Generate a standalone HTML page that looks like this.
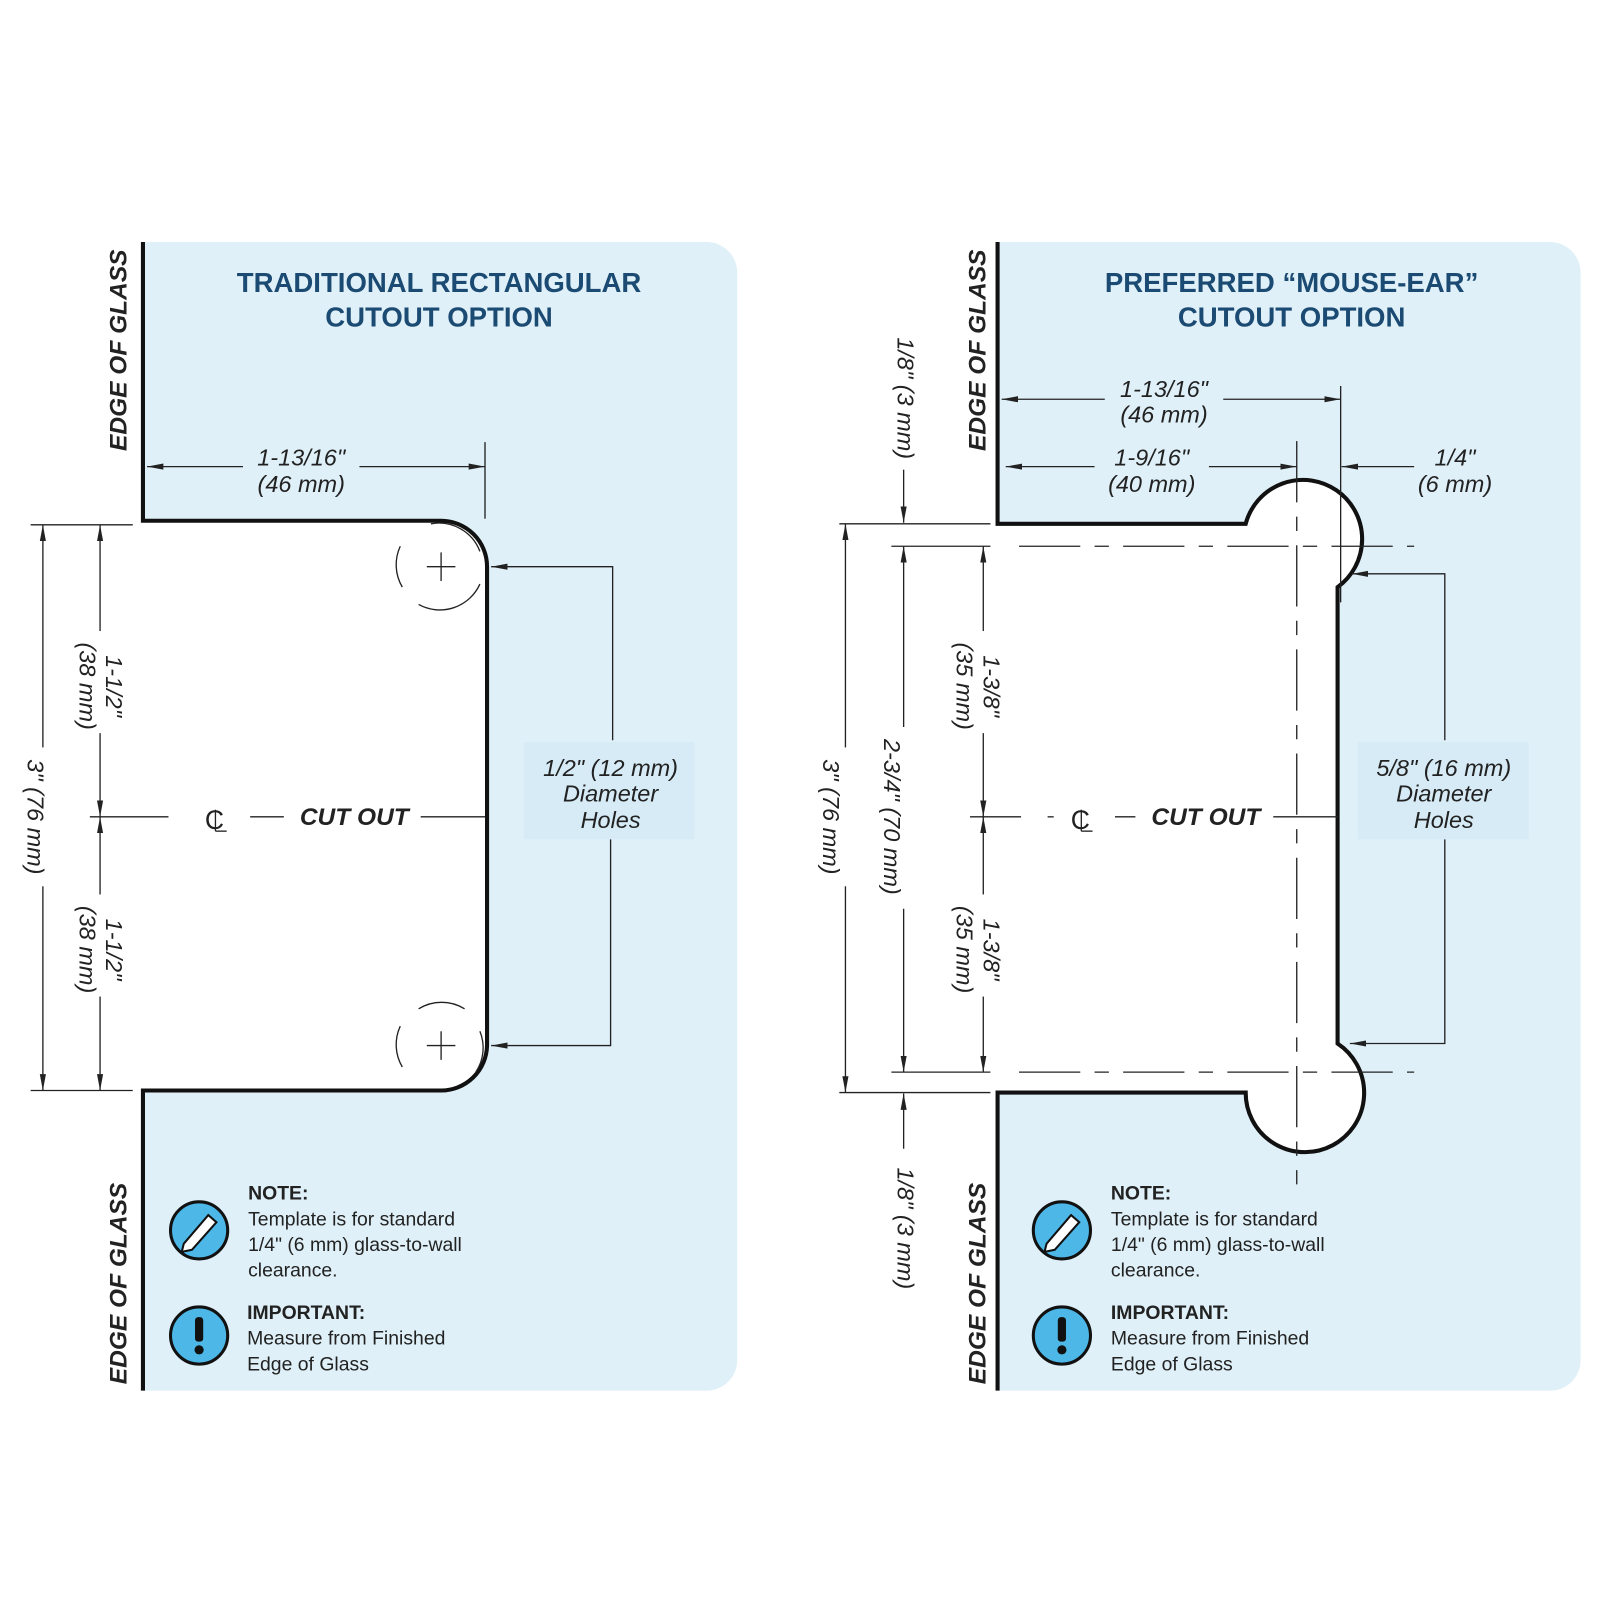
<!DOCTYPE html>
<html><head><meta charset="utf-8"><style>
html,body{margin:0;padding:0;background:#fff;width:1600px;height:1600px;overflow:hidden}
svg{display:block}
text{font-family:"Liberation Sans",Arial,sans-serif}
.t{font-weight:bold;font-size:27px;fill:#1b4a72;text-anchor:middle}
.eg{font-weight:bold;font-style:italic;font-size:24px;fill:#222;text-anchor:middle}
.d{font-style:italic;font-size:23px;fill:#222;text-anchor:middle}
.co{font-weight:bold;font-style:italic;font-size:24px;fill:#222;text-anchor:middle}
.n{font-size:19px;fill:#222}
.nb{font-size:19px;fill:#222;font-weight:bold}
.l{stroke:#222;stroke-width:1.3;fill:none}
.o{stroke:#111;stroke-width:4;fill:none}
.ds{stroke:#222;stroke-width:1.3;fill:none;stroke-dasharray:60 14 14 14}
</style></head><body>
<svg width="1600" height="1600" viewBox="0 0 1567 1567" xmlns="http://www.w3.org/2000/svg">
<defs>
<marker id="a" viewBox="0 0 16 8" refX="16" refY="4" markerWidth="16" markerHeight="8" orient="auto-start-reverse" markerUnits="userSpaceOnUse"><path d="M0,1 L16,4 L0,7 Z" fill="#222"/></marker>
</defs>

<!-- LEFT PANEL -->
<path d="M140,237 H692 A30,30 0 0 1 722,267 V1332 A30,30 0 0 1 692,1362 H140 Z" fill="#dff0f8"/>
<path d="M100,510 H432 A45,45 0 0 1 477,555 V1024 A45,45 0 0 1 432,1068 H100 Z" fill="#fff"/>
<path class="o" d="M140,237 V510 H432 A45,45 0 0 1 477,555 V1024 A45,45 0 0 1 432,1068 H140 V1362"/>
<text class="t" x="430" y="286">TRADITIONAL RECTANGULAR</text>
<text class="t" x="430" y="320">CUTOUT OPTION</text>
<text class="eg" transform="translate(124,343) rotate(-90)">EDGE OF GLASS</text>
<text class="eg" transform="translate(124,1257) rotate(-90)">EDGE OF GLASS</text>

<line class="l" x1="475" y1="433" x2="475" y2="508"/>
<line class="l" x1="144" y1="457" x2="475" y2="457" marker-start="url(#a)" marker-end="url(#a)"/>
<rect x="238" y="432" width="114" height="58" fill="#dff0f8"/>
<text class="d" x="295" y="456">1-13/16"</text>
<text class="d" x="295" y="482">(46 mm)</text>

<line class="l" x1="30" y1="514" x2="130" y2="514"/>
<line class="l" x1="30" y1="1068" x2="130" y2="1068"/>
<line class="l" x1="42" y1="514" x2="42" y2="1068" marker-start="url(#a)" marker-end="url(#a)"/>
<rect x="25" y="732" width="34" height="136" fill="#fff"/>
<text class="d" transform="translate(27,800) rotate(90)">3" (76 mm)</text>
<line class="l" x1="98" y1="514" x2="98" y2="800" marker-start="url(#a)" marker-end="url(#a)"/>
<line class="l" x1="98" y1="800" x2="98" y2="1068" marker-start="url(#a)" marker-end="url(#a)"/>
<rect x="70" y="618" width="56" height="100" fill="#fff"/>
<rect x="70" y="876" width="56" height="100" fill="#fff"/>
<text class="d" transform="translate(104,672) rotate(90)">1-1/2"</text>
<text class="d" transform="translate(78,672) rotate(90)">(38 mm)</text>
<text class="d" transform="translate(104,930) rotate(90)">1-1/2"</text>
<text class="d" transform="translate(78,930) rotate(90)">(38 mm)</text>
<line class="l" x1="88" y1="800" x2="165" y2="800"/>
<text x="210" y="812" font-size="26" fill="#222" text-anchor="middle">C</text><line class="l" x1="211" y1="793" x2="211" y2="814"/><line class="l" x1="211" y1="814" x2="222" y2="814"/>
<line class="l" x1="245" y1="800" x2="278" y2="800"/>
<text class="co" x="347" y="808">CUT OUT</text>
<line class="l" x1="412" y1="800" x2="475" y2="800"/>

<g class="l">
<path d="M422,513 A43,43 0 0 1 470,540" /><path d="M470,572 A43,43 0 0 1 410,592"/><path d="M394,575 A43,43 0 0 1 392,535"/>
<line x1="418" y1="555" x2="446" y2="555"/><line x1="432" y1="541" x2="432" y2="569"/>
<path d="M410,988 A43,43 0 0 1 455,988"/><path d="M470,1010 A43,43 0 0 1 466,1050"/><path d="M394,1045 A43,43 0 0 1 392,1005"/>
<line x1="418" y1="1024" x2="446" y2="1024"/><line x1="432" y1="1010" x2="432" y2="1038"/>
</g>
<polyline class="l" points="600,725 600,555 481,555" marker-end="url(#a)"/>
<polyline class="l" points="598,822 598,1024 481,1024" marker-end="url(#a)"/>
<rect x="513" y="727" width="167" height="95" fill="#d6ebf5"/>
<text class="d" x="598" y="760">1/2" (12 mm)</text>
<text class="d" x="598" y="785">Diameter</text>
<text class="d" x="598" y="811">Holes</text>

<g>
<circle cx="195" cy="1205" r="28" fill="#4db8e8" stroke="#111" stroke-width="3"/>
<path d="M180,1218 L204,1190 L212,1197 L188,1224 L178,1226 Z" fill="#fff" stroke="#111" stroke-width="2"/>
<circle cx="195" cy="1308" r="28" fill="#4db8e8" stroke="#111" stroke-width="3"/>
<rect x="191" y="1290" width="8" height="24" rx="3" fill="#111"/><circle cx="195" cy="1322" r="4.5" fill="#111"/>
<text class="nb" x="243" y="1175">NOTE:</text>
<text class="n" x="243" y="1200">Template is for standard</text>
<text class="n" x="243" y="1225">1/4" (6 mm) glass-to-wall</text>
<text class="n" x="243" y="1250">clearance.</text>
<text class="nb" x="242" y="1292">IMPORTANT:</text>
<text class="n" x="242" y="1317">Measure from Finished</text>
<text class="n" x="242" y="1342">Edge of Glass</text>
</g>

<!-- RIGHT PANEL -->
<path d="M977,237 H1518 A30,30 0 0 1 1548,267 V1332 A30,30 0 0 1 1518,1362 H977 Z" fill="#dff0f8"/>
<path d="M940,513 H1220 A58,58 0 1 1 1310,575 V1022 A58,58 0 1 1 1220,1070 H940 Z" fill="#fff"/>
<path class="o" d="M977,237 V513 H1220 A58,58 0 1 1 1310,575 V1022 A58,58 0 1 1 1220,1070 H977 V1362"/>
<text class="t" x="1265" y="286">PREFERRED “MOUSE-EAR”</text>
<text class="t" x="1265" y="320">CUTOUT OPTION</text>
<text class="eg" transform="translate(965,343) rotate(-90)">EDGE OF GLASS</text>
<text class="eg" transform="translate(965,1257) rotate(-90)">EDGE OF GLASS</text>

<line class="ds" x1="998" y1="535" x2="1385" y2="535"/>
<line class="ds" x1="998" y1="1050" x2="1385" y2="1050"/>
<line class="ds" x1="1270" y1="432" x2="1270" y2="1160"/>

<line class="l" x1="1313" y1="378" x2="1313" y2="590"/>
<line class="l" x1="981" y1="391" x2="1313" y2="391" marker-start="url(#a)" marker-end="url(#a)"/>
<rect x="1082" y="366" width="116" height="58" fill="#dff0f8"/>
<text class="d" x="1140" y="389">1-13/16"</text>
<text class="d" x="1140" y="414">(46 mm)</text>
<line class="l" x1="985" y1="457" x2="1270" y2="457" marker-start="url(#a)" marker-end="url(#a)"/>
<rect x="1072" y="432" width="112" height="58" fill="#dff0f8"/>
<text class="d" x="1128" y="456">1-9/16"</text>
<text class="d" x="1128" y="482">(40 mm)</text>
<line class="l" x1="1385" y1="457" x2="1314" y2="457" marker-end="url(#a)"/>
<text class="d" x="1425" y="456">1/4"</text>
<text class="d" x="1425" y="482">(6 mm)</text>

<line class="l" x1="822" y1="513" x2="970" y2="513"/>
<line class="l" x1="873" y1="535" x2="970" y2="535"/>
<line class="l" x1="873" y1="1050" x2="970" y2="1050"/>
<line class="l" x1="822" y1="1070" x2="970" y2="1070"/>
<line class="l" x1="885" y1="460" x2="885" y2="512" marker-end="url(#a)"/>
<text class="d" transform="translate(879,390) rotate(90)">1/8" (3 mm)</text>
<line class="l" x1="885" y1="1125" x2="885" y2="1071" marker-end="url(#a)"/>
<text class="d" transform="translate(879,1203) rotate(90)">1/8" (3 mm)</text>
<line class="l" x1="828" y1="513" x2="828" y2="1070" marker-start="url(#a)" marker-end="url(#a)"/>
<rect x="800" y="732" width="34" height="136" fill="#fff"/>
<text class="d" transform="translate(806,800) rotate(90)">3" (76 mm)</text>
<line class="l" x1="885" y1="535" x2="885" y2="1050" marker-start="url(#a)" marker-end="url(#a)"/>
<rect x="860" y="712" width="34" height="178" fill="#fff"/>
<text class="d" transform="translate(866,800) rotate(90)">2-3/4" (70 mm)</text>
<line class="l" x1="963" y1="535" x2="963" y2="800" marker-start="url(#a)" marker-end="url(#a)"/>
<line class="l" x1="963" y1="800" x2="963" y2="1050" marker-start="url(#a)" marker-end="url(#a)"/>
<rect x="930" y="618" width="56" height="100" fill="#fff"/>
<rect x="930" y="876" width="56" height="100" fill="#fff"/>
<text class="d" transform="translate(963,672) rotate(90)">1-3/8"</text>
<text class="d" transform="translate(937,672) rotate(90)">(35 mm)</text>
<text class="d" transform="translate(963,930) rotate(90)">1-3/8"</text>
<text class="d" transform="translate(937,930) rotate(90)">(35 mm)</text>
<line class="l" x1="950" y1="800" x2="1000" y2="800"/>
<line class="l" x1="1026" y1="800" x2="1032" y2="800"/>
<text x="1058" y="812" font-size="26" fill="#222" text-anchor="middle">C</text><line class="l" x1="1059" y1="793" x2="1059" y2="814"/><line class="l" x1="1059" y1="814" x2="1070" y2="814"/>
<line class="l" x1="1092" y1="800" x2="1112" y2="800"/>
<text class="co" x="1181" y="808">CUT OUT</text>
<line class="l" x1="1247" y1="800" x2="1310" y2="800"/>

<polyline class="l" points="1415,725 1415,562 1324,562" marker-end="url(#a)"/>
<polyline class="l" points="1415,822 1415,1022 1322,1022" marker-end="url(#a)"/>
<rect x="1330" y="727" width="167" height="95" fill="#d6ebf5"/>
<text class="d" x="1414" y="760">5/8" (16 mm)</text>
<text class="d" x="1414" y="785">Diameter</text>
<text class="d" x="1414" y="811">Holes</text>

<g>
<circle cx="1040" cy="1205" r="28" fill="#4db8e8" stroke="#111" stroke-width="3"/>
<path d="M1025,1218 L1049,1190 L1057,1197 L1033,1224 L1023,1226 Z" fill="#fff" stroke="#111" stroke-width="2"/>
<circle cx="1040" cy="1308" r="28" fill="#4db8e8" stroke="#111" stroke-width="3"/>
<rect x="1036" y="1290" width="8" height="24" rx="3" fill="#111"/><circle cx="1040" cy="1322" r="4.5" fill="#111"/>
<text class="nb" x="1088" y="1175">NOTE:</text>
<text class="n" x="1088" y="1200">Template is for standard</text>
<text class="n" x="1088" y="1225">1/4" (6 mm) glass-to-wall</text>
<text class="n" x="1088" y="1250">clearance.</text>
<text class="nb" x="1088" y="1292">IMPORTANT:</text>
<text class="n" x="1088" y="1317">Measure from Finished</text>
<text class="n" x="1088" y="1342">Edge of Glass</text>
</g>
</svg>
</body></html>
